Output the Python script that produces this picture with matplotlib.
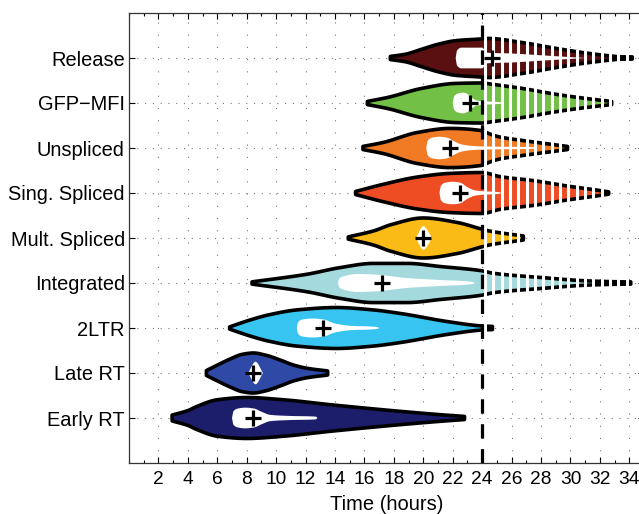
import numpy as np
import matplotlib
matplotlib.use('Agg')
import matplotlib.pyplot as plt
from matplotlib.ticker import MultipleLocator

plt.rcParams['font.family'] = ['Liberation Sans', 'DejaVu Sans']

# categories, bottom to top
labels = ['Early RT', 'Late RT', '2LTR', 'Integrated', 'Mult. Spliced',
          'Sing. Spliced', 'Unspliced', 'GFP\u2212MFI', 'Release']
colours = ['#1c1e6c', '#2e4aa6', '#38c4f0', '#a4dade', '#fbbb16',
           '#ee4d24', '#f17a25', '#72c046', '#5a1010']
mean_time = [8.45, 8.45, 13.2, 17.2, 20.0, 22.5, 21.8, 23.2, 24.7]

# violin outlines: (time in hours, half width)
early_rt_outer = [(2.93, 0.09), (4.0, 0.19), (4.6, 0.28), (6.0, 0.43), (8.0, 0.48), (10.5, 0.43),
                  (13.7, 0.32), (18.2, 0.18), (21.5, 0.09), (22.8, 0.06)]
early_rt_inner = [(7.0, 0.0), (7.1, 0.15), (7.4, 0.21), (7.9, 0.23), (8.5, 0.21), (9.0, 0.14),
                  (9.6, 0.07), (11.0, 0.045), (12.7, 0.03), (12.8, 0.0)]
late_rt_outer = [(5.26, 0.08), (6.0, 0.2), (6.9, 0.34), (7.7, 0.44), (8.45, 0.47), (9.3, 0.42),
                 (10.3, 0.31), (11.2, 0.2), (12.1, 0.13), (13.5, 0.07)]
late_rt_inner = [(8.1, 0.0), (8.6, 0.25), (9.1, 0.0)]
ltr2_outer = [(6.84, 0.05), (8.2, 0.2), (9.4, 0.31), (11.5, 0.43), (14.1, 0.48), (16.5, 0.43),
              (18.4, 0.35), (21.8, 0.16), (24.0, 0.07), (24.7, 0.06)]
ltr2_inner = [(11.4, 0.0), (11.5, 0.13), (11.8, 0.19), (12.5, 0.21), (13.2, 0.19), (14.0, 0.1),
              (15.0, 0.05), (16.9, 0.02), (17.0, 0.0)]
integrated_outer = [(8.36, 0.05), (12.1, 0.22), (14.4, 0.37), (16.6, 0.46), (18.9, 0.46),
                    (21.2, 0.39), (23.9, 0.30), (24.8, 0.24), (27.9, 0.15), (31.3, 0.07), (34.1, 0.045)]
integrated_inner = [(14.2, 0.0), (14.3, 0.1), (14.6, 0.15), (15.5, 0.2), (16.6, 0.19), (18.9, 0.11),
                    (21.2, 0.065), (23.4, 0.02), (23.5, 0.0)]
mult_outer = [(14.9, 0.05), (16.6, 0.18), (17.8, 0.32), (20.0, 0.47), (22.3, 0.37), (24.0, 0.22),
              (24.5, 0.18), (26.8, 0.07)]
mult_inner = [(19.5, 0.0), (20.0, 0.26), (20.6, 0.0)]
sing_outer = [(15.4, 0.06), (17.3, 0.22), (19.6, 0.38), (21.8, 0.46), (24.0, 0.48), (25.2, 0.39),
              (27.5, 0.30), (29.8, 0.18), (32.0, 0.08), (32.6, 0.05)]
sing_inner = [(21.1, 0.0), (21.2, 0.16), (21.5, 0.23), (22.0, 0.25), (22.5, 0.23), (23.0, 0.13),
              (23.5, 0.06), (24.0, 0.04), (25.2, 0.015), (25.3, 0.0)]
unspliced_outer = [(15.9, 0.06), (17.3, 0.15), (19.6, 0.37), (21.8, 0.46), (24.0, 0.41), (24.5, 0.34),
                   (25.2, 0.27), (26.8, 0.19), (29.1, 0.09), (29.8, 0.06)]
unspliced_inner = [(20.2, 0.0), (20.3, 0.16), (20.6, 0.23), (21.1, 0.25), (21.6, 0.23), (22.1, 0.15),
                   (22.6, 0.08), (23.2, 0.05), (24.0, 0.035), (27.6, 0.015), (27.7, 0.0)]
gfp_outer = [(16.2, 0.06), (17.6, 0.15), (19.9, 0.35), (22.2, 0.46), (24.0, 0.47), (24.7, 0.44),
             (26.7, 0.35), (29.0, 0.22), (31.2, 0.12), (32.8, 0.06)]
gfp_inner = [(22.0, 0.0), (22.1, 0.15), (22.35, 0.21), (22.7, 0.23), (23.0, 0.2), (23.3, 0.12),
             (23.6, 0.06), (24.0, 0.04), (25.3, 0.015), (25.4, 0.0)]
release_outer = [(17.76, 0.06), (18.8, 0.11), (19.9, 0.22), (21.0, 0.33), (22.2, 0.41), (24.0, 0.45),
                 (24.4, 0.46), (26.7, 0.37), (29.0, 0.24), (31.2, 0.13), (33.5, 0.05), (34.2, 0.04)]
release_inner = [(22.2, 0.0), (22.3, 0.17), (22.6, 0.23), (24.0, 0.23), (24.3, 0.12), (26.0, 0.1),
                 (28.0, 0.06), (30.0, 0.02), (31.0, 0.0)]

outers = [early_rt_outer, late_rt_outer, ltr2_outer, integrated_outer, mult_outer,
          sing_outer, unspliced_outer, gfp_outer, release_outer]
inners = [early_rt_inner, late_rt_inner, ltr2_inner, integrated_inner, mult_inner,
          sing_inner, unspliced_inner, gfp_inner, release_inner]


def pchip_profile(knots, n=600):
    '''smooth monotone curve through the knots'''
    kt = np.array([k[0] for k in knots], dtype=float)
    kh = np.array([k[1] for k in knots], dtype=float)
    hk = np.diff(kt)
    d = np.diff(kh) / hk
    m = np.zeros(len(kt))
    for k in range(1, len(kt) - 1):
        if d[k - 1] * d[k] > 0:
            w1 = 2 * hk[k] + hk[k - 1]
            w2 = hk[k] + 2 * hk[k - 1]
            m[k] = (w1 + w2) / (w1 / d[k - 1] + w2 / d[k])
    m[0] = d[0]
    m[-1] = d[-1]
    t = np.linspace(kt[0], kt[-1], n)
    i = np.clip(np.searchsorted(kt, t) - 1, 0, len(kt) - 2)
    s = (t - kt[i]) / hk[i]
    h00 = 2 * s**3 - 3 * s**2 + 1
    h10 = s**3 - 2 * s**2 + s
    h01 = -2 * s**3 + 3 * s**2
    h11 = s**3 - s**2
    h = h00 * kh[i] + h10 * hk[i] * m[i] + h01 * kh[i + 1] + h11 * hk[i] * m[i + 1]
    return t, np.maximum(h, 0)


fig = plt.figure(figsize=(6.39, 5.14), dpi=100)
ax = fig.add_axes([129 / 639, 51 / 514, 515 / 639, 450 / 514])

stripes = np.arange(24.2, 35.0, 0.566)

for i in range(len(labels)):
    y = i + 1
    t, h = pchip_profile(outers[i])
    h = np.maximum(h - 0.025, 0.025)
    xs = np.concatenate([t, t[::-1]])
    ys = np.concatenate([y + h, (y - h)[::-1]])
    ax.fill(xs, ys, facecolor=colours[i], edgecolor='k', lw=2.6, joinstyle='round', zorder=2)

    ti, hi = pchip_profile(inners[i])
    ax.fill(np.concatenate([ti, ti[::-1]]), np.concatenate([y + hi, (y - hi)[::-1]]),
            facecolor='white', edgecolor='none', zorder=3)

    # part after 24 h is drawn in stripes
    ts = stripes[stripes < t[-1]]
    if len(ts):
        hs = np.interp(ts, t, h)
        ax.vlines(ts, y - hs - 0.07, y + hs + 0.07, colors='white', lw=2.2, zorder=4)

    ax.plot(mean_time[i], y, marker='+', ms=11, mew=2.3, color='k', zorder=5)

ax.axvline(24, color='k', lw=2.3, ls=(0, (4.5, 3.3)), zorder=6)

ax.set_xlim(0, 35)
ax.set_ylim(0, 10)
ax.set_xticks(np.arange(2, 35, 2))
ax.xaxis.set_minor_locator(MultipleLocator(1))
ax.set_yticks(np.arange(1, 10))
ax.set_yticklabels(labels)
ax.tick_params(which='both', direction='in', top=True, right=True)
ax.tick_params(which='major', length=4, width=0.8)
ax.tick_params(which='minor', length=2.5, width=0.8)
ax.tick_params(axis='x', labelsize=13.8, pad=6)
ax.tick_params(axis='y', labelsize=14.4, pad=3)
for sp in ax.spines.values():
    sp.set_linewidth(0.9)
    sp.set_color('#333333')

ax.xaxis.grid(True, which='major', color='#777777', lw=0.8, ls=(0, (1, 10)))
ax.yaxis.grid(True, which='major', color='#777777', lw=0.8, ls=(0, (1, 6)))
ax.set_axisbelow(True)

ax.set_xlabel('Time (hours)', fontsize=14.5, labelpad=5)

fig.savefig('out.png', dpi=100)
